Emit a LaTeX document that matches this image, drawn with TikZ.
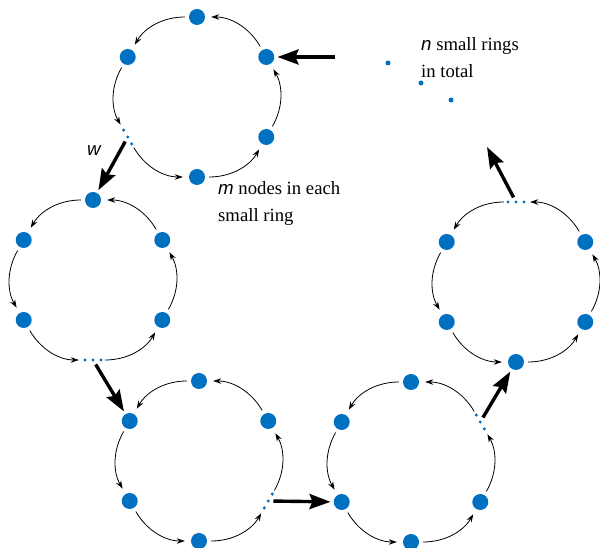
\documentclass[tikz,border=0pt]{standalone}
\usepackage{fontspec}
\setmainfont{Liberation Serif}
\newfontfamily\varfont{Liberation Sans}
\usetikzlibrary{arrows.meta}
\definecolor{ringblue}{RGB}{0,112,192}
\begin{document}
\begin{tikzpicture}[x=1pt,y=1pt,
  ringnode/.style={circle,fill=ringblue,inner sep=0pt,minimum size=16pt},
  gapnode/.style={circle,inner sep=0pt,minimum size=16pt},
  smalldot/.style={circle,fill=ringblue,inner sep=0pt,minimum size=3.4pt},
  bigdot/.style={circle,fill=ringblue,inner sep=0pt,minimum size=5pt},
  arcline/.style={line width=0.8pt,-{Stealth[length=8pt,width=5.5pt]},shorten <=4pt,shorten >=6pt},
  bigarrow/.style={line width=3.4pt,-{Stealth[length=21pt,width=15pt,inset=3pt]},shorten >=3pt},
  lbl/.style={font=\fontsize{18.7}{27.5}\selectfont,align=left,inner sep=0pt}
]
\useasboundingbox (0,0) rectangle (600,548);

\foreach \r/\cx/\cy/\g in {1/197/451/2, 2/93/268/3, 3/199/87/4, 4/411/86/5, 5/516/266/0}{
  \foreach \k in {0,...,5}{
    \pgfmathsetmacro\ang{90+60*\k}
    \pgfmathsetmacro\tang{\ang+90}
    \ifnum\k=\g
      \node[gapnode] (r\r a\k) at ([shift={(\cx,\cy)}]\ang:80) {};
      \foreach \s in {-8,0,8}{
        \node[smalldot] at ([shift={(r\r a\k)}]\tang:\s) {};
      }
    \else
      \node[ringnode] (r\r a\k) at ([shift={(\cx,\cy)}]\ang:80) {};
    \fi
  }
  \foreach \k in {0,...,5}{
    \pgfmathtruncatemacro\nk{mod(\k+1,6)}
    \draw[arcline] (r\r a\k) to[bend right=30] (r\r a\nk);
  }
}

% big arrows between rings
\coordinate (inA) at (335,491);
\coordinate (outA) at (487,401);
\draw[bigarrow] (inA) -- (r1a5);
\draw[bigarrow,shorten <=-3pt] (r1a2) -- (r2a0);
\draw[bigarrow,shorten <=-3pt] (r2a3) -- (r3a1);
\draw[bigarrow,shorten <=-3pt] (r3a4) -- (r4a2);
\draw[bigarrow,shorten <=-3pt] (r4a5) -- (r5a3);
\draw[bigarrow,shorten <=-3pt,shorten >=0pt] (r5a0) -- (outA);

% ring-count dots
\node[bigdot] (d1) at (388,485) {};
\node[bigdot] (d2) at (421,465) {};
\node[bigdot] (d3) at (451,448) {};

% labels
\node[lbl] (wl) at (94,397) {\varfont\itshape w};
\node[lbl,anchor=north west] (ml) at (218,367) {{\varfont\itshape m} nodes in each\\small ring};
\node[lbl,anchor=north west] (nl) at (421,511) {{\varfont\itshape n} small rings\\in total};
\end{tikzpicture}
\end{document}
